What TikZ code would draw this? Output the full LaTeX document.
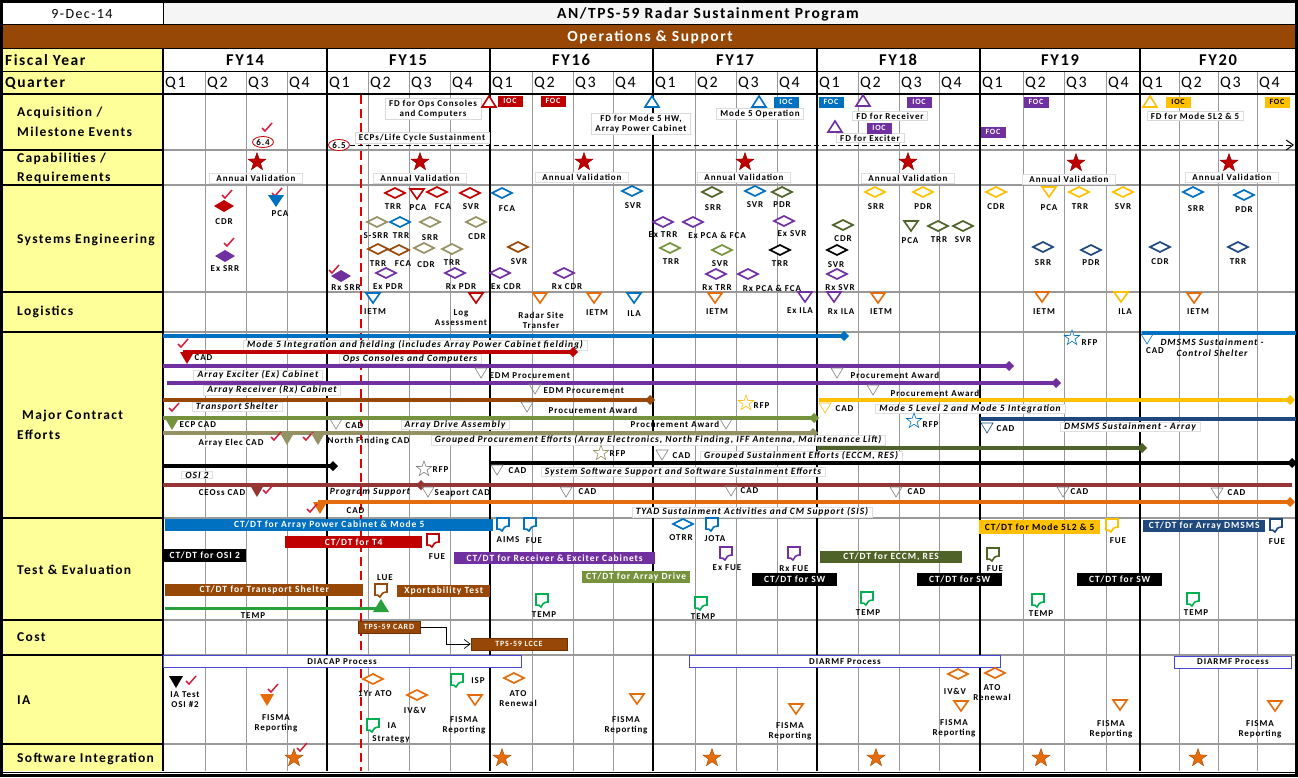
\documentclass[tikz,border=0pt]{standalone}
\usepackage{fontspec}
\setmainfont{Carlito}[LetterSpace=10]
\usetikzlibrary{shapes.geometric,arrows.meta}
\definecolor{cRed}{RGB}{192,0,0}
\definecolor{cBlue}{RGB}{0,112,192}
\definecolor{cPur}{RGB}{112,48,160}
\definecolor{cOlv}{RGB}{118,146,60}
\definecolor{cDOlv}{RGB}{79,98,40}
\definecolor{cTan}{RGB}{148,145,100}
\definecolor{cBrn}{RGB}{151,72,6}
\definecolor{cOrg}{RGB}{228,108,10}
\definecolor{cGold}{RGB}{255,192,0}
\definecolor{cNavy}{RGB}{31,73,125}
\definecolor{cGrn}{RGB}{0,176,80}
\definecolor{cTemp}{RGB}{40,160,60}
\definecolor{cMar}{RGB}{150,54,52}
\definecolor{cYel}{RGB}{255,255,153}
\definecolor{cChk}{RGB}{210,30,60}
\definecolor{cPbl}{RGB}{70,70,210}
\newcommand{\lblf}{\bfseries\fontsize{9}{10}\selectfont}
\newcommand{\mkHD}[3]{\draw[#3,line width=1.6pt,fill=white] (#1,#2) ++(-10,0) -- ++(10,-5) -- ++(10,5) -- ++(-10,5) -- cycle;}
\newcommand{\mkFD}[3]{\fill[#3] (#1,#2) ++(-10,0) -- ++(10,-6) -- ++(10,6) -- ++(-10,6) -- cycle;}
\newcommand{\mkTD}[3]{\draw[#3,line width=1.6pt,fill=white] (#1,#2) ++(-7,-5) -- ++(14,0) -- ++(-7,10) -- cycle;}
\newcommand{\mkFTD}[3]{\fill[#3] (#1,#2) ++(-7,-6) -- ++(14,0) -- ++(-7,12) -- cycle;}
\newcommand{\mkTU}[3]{\draw[#3,line width=1.6pt,fill=white] (#1,#2) ++(-7,5) -- ++(14,0) -- ++(-7,-11) -- cycle;}
\newcommand{\mkFTU}[3]{\fill[#3] (#1,#2) ++(-8,6) -- ++(16,0) -- ++(-8,-13) -- cycle;}
\newcommand{\mkGT}[3]{\draw[#3,line width=0.6pt] (#1,#2) ++(-6,-5) -- ++(12,0) -- ++(-6,10) -- cycle;}
\newcommand{\mkDOC}[3]{\begin{scope}[shift={(#1,#2)}]\draw[#3,line width=1.6pt,fill=white] (-6,-6) -- (6,-6) -- (6,2) .. controls (2,2) and (0,4) .. (-1,7) .. controls (-2,5) and (-4,5) .. (-6,5) -- cycle;\end{scope}}
\newcommand{\mkCHK}[2]{\draw[cChk,line width=1.5pt] (#1,#2) ++(-4,-1) -- ++(3,3) -- ++(7,-8);}
\newcommand{\mkSTAR}[3]{\node[star,star points=5,star point ratio=2.5,minimum size=19pt,inner sep=0pt,fill=#3,draw=#3!70!black] at (#1,#2) {};}
\newcommand{\mkHSTAR}[3]{\node[star,star points=5,star point ratio=2.5,minimum size=16pt,inner sep=0pt,draw=#3,line width=0.6pt,fill=white] at (#1,#2) {};}
\newcommand{\mkEND}[3]{\fill[#3] (#1,#2) ++(-5,0) -- ++(5,-5) -- ++(5,5) -- ++(-5,5) -- cycle;}
\newcommand{\mkL}[3]{\node[lbl] at (#1,#2) {#3};}
\tikzset{
  lbl/.style={font=\lblf, inner sep=0.5pt, align=center},
  lbw/.style={font=\lblf, inner sep=0.5pt, anchor=west},
  ital/.style={font=\bfseries\itshape\fontsize{9.5}{11}\selectfont, inner xsep=4pt, inner ysep=0.5pt, fill=white, draw=gray!25},
  abox/.style={font=\lblf, inner xsep=4pt, inner ysep=1.5pt, fill=white, draw=gray!30, align=center},
  vbox/.style={font=\bfseries\fontsize{9}{10}\selectfont, inner xsep=7pt, inner ysep=1.5pt, fill=white, draw=gray!25},
  mbox/.style={font=\bfseries\fontsize{8}{8}\selectfont, text=white, minimum width=25pt, minimum height=11pt, inner sep=0pt},
  bar/.style={font=\bfseries\fontsize{9.5}{10}\selectfont, text=white, minimum height=12pt, inner sep=0pt, anchor=west},
  cbox/.style={font=\bfseries\fontsize{8}{8}\selectfont, text=white, fill=cBrn, draw=cBrn!70!black, minimum height=12pt, inner sep=0pt},
  pbox/.style={font=\lblf, draw=cPbl, line width=1pt, fill=white, minimum height=12pt, inner sep=0pt},
  rowlab/.style={font=\bfseries\fontsize{13.5}{15}\selectfont, anchor=west, inner sep=0pt},
  lw/.style={line width=3.2pt}
}
\begin{document}
\begin{tikzpicture}[x=1pt,y=-1pt]
\useasboundingbox (0,0) rectangle (1298,777);
% ---------- backgrounds
\fill[white] (0,0) rectangle (1298,777);
\fill[gray!8] (163,3) rectangle (1295,24);
\fill[cBrn] (3,25) rectangle (1295,48);
\fill[cYel] (3,49) rectangle (163,771);
% ---------- grid
\foreach \q in {205,246,287,368,409,450,532,573,613,695,736,777,858,899,939,1023,1064,1106,1179,1218,1257}
  \draw[gray!80,line width=1pt] (\q,71) -- (\q,771);
\foreach \yy in {150,185,292,332,518,620,655,744} {
  \draw[gray!80,line width=1.5pt] (163,\yy) -- (1295,\yy);
  \draw[black,line width=1.5pt] (3,\yy) -- (163,\yy);
}
\draw[black,line width=1pt] (3,71) -- (1295,71);
\draw[black,line width=2pt] (3,94) -- (1295,94);
\draw[black,line width=1.5pt] (3,48.5) -- (1295,48.5);
\draw[black,line width=1pt] (3,24.5) -- (1295,24.5);
\draw[black,line width=0.6pt] (163,3) -- (163,24);
\foreach \q in {163,327,490,653,817,980,1140}
  \draw[black,line width=2.4pt] (\q,49) -- (\q,771);
\draw[black,line width=3pt] (1.5,1.5) rectangle (1296.5,775.5);
\draw[black,line width=1pt] (3,772) -- (1295,772);
% red dashed status line
\draw[red!90!black,line width=2.4pt,dash pattern=on 9pt off 5pt] (361,95) -- (361,771);
% ---------- header texts
\node[font=\fontsize{14}{16}\selectfont] (date) at (82,14) {9-Dec-14};
\node[font=\bfseries\fontsize{15.5}{17}\selectfont] (title) at (708,14) {AN/TPS-59 Radar Sustainment Program};
\node[font=\bfseries\fontsize{15.5}{17}\selectfont,text=white] (ops) at (650,37) {Operations \& Support};
\node[rowlab,font=\bfseries\fontsize{15.5}{17}\selectfont] (fyl) at (5,60) {Fiscal Year};
\node[rowlab,font=\bfseries\fontsize{15.5}{17}\selectfont] (ql) at (5,83) {Quarter};
\foreach \a/\t in {245/FY14,408/FY15,571/FY16,735/FY17,898/FY18,1060/FY19,1218/FY20}
  \node[font=\bfseries\fontsize{16.5}{18}\selectfont] at (\a,60) {\t};
\foreach \a/\t in {163/Q1,205/Q2,246/Q3,287/Q4,327/Q1,368/Q2,409/Q3,450/Q4,490/Q1,532/Q2,573/Q3,613/Q4,653/Q1,695/Q2,736/Q3,777/Q4,817/Q1,858/Q2,899/Q3,939/Q4,980/Q1,1023/Q2,1064/Q3,1106/Q4,1140/Q1,1179/Q2,1218/Q3,1257/Q4}
  \node[anchor=west,inner sep=0pt,font=\fontsize{16}{18}\selectfont] at (\a+2,83) {\t};
% row labels
\node[rowlab] (r1) at (17,113) {Acquisition /};
\node[rowlab] (r1b) at (17,132) {Milestone Events};
\node[rowlab] (r2) at (17,159) {Capabilities /};
\node[rowlab] (r2b) at (17,178) {Requirements};
\node[rowlab] (r3) at (17,240) {Systems Engineering};
\node[rowlab] (r4) at (17,312) {Logistics};
\node[rowlab] (r5) at (22,416) {Major Contract};
\node[rowlab] (r5b) at (17,435) {Efforts};
\node[rowlab] (r6) at (17,570) {Test \& Evaluation};
\node[rowlab] (r7) at (17,637) {Cost};
\node[rowlab] (r8) at (17,700) {IA};
\node[rowlab] (r9) at (17,759) {Software Integration};
% ---------- Acquisition / Milestone events
\node[ellipse,draw=cRed,line width=0.8pt,minimum width=21pt,minimum height=11pt,inner sep=0pt,font=\lblf] (e64) at (263,142) {6.4};
\mkCHK{266}{129}
\node[ellipse,draw=cRed,line width=0.8pt,minimum width=21pt,minimum height=11pt,inner sep=0pt,font=\lblf,fill=white] (e65) at (339,145) {6.5};
\coordinate (ecpend) at (1294,145);
\draw[line width=1pt,dash pattern=on 5pt off 3pt,-{Straight Barb[length=7pt,width=10pt]}] (e65.east) -- (ecpend);
\node[abox] (ecp) at (422,138) {ECPs/Life Cycle Sustainment};
\node[abox] (fdops) at (433,109) {FD for Ops Consoles\\and Computers};
\mkTU{489}{102}{cRed}
\node[mbox,fill=cRed] (ioc1) at (510,101) {IOC};
\node[mbox,fill=cRed] (foc1) at (553,101) {FOC};
\mkTU{652}{102}{cBlue}
\node[abox] (fdm5) at (641,124) {FD for Mode 5 HW,\\Array Power Cabinet};
\node[abox] (m5op) at (760,114) {Mode 5 Operation};
\mkTU{759}{102}{cBlue}
\node[mbox,fill=cBlue] (ioc2) at (786,102) {IOC};
\node[mbox,fill=cBlue] (foc2) at (831,102) {FOC};
\mkTU{863}{101}{cPur}
\node[abox] (fdrx) at (890,116) {FD for Receiver};
\node[mbox,fill=cPur] (ioc3) at (919,102) {IOC};
\node[abox] (fdex) at (870,138) {FD for Exciter};
\mkTU{835}{127}{cPur}
\node[mbox,fill=cPur] (ioc4) at (879,128) {IOC};
\node[mbox,fill=cPur] (foc4) at (993,132) {FOC};
\node[mbox,fill=cPur] (foc3) at (1036,102) {FOC};
\mkTU{1150}{102}{cGold}
\node[mbox,fill=cGold,text=black] (ioc5) at (1178,102) {IOC};
\node[abox] (fd5l2) at (1195,116) {FD for Mode 5L2 \& 5};
\node[mbox,fill=cGold,text=black] (foc5) at (1277,102) {FOC};
% ---------- Capabilities
\foreach \a/\b in {257/162,420/162,584/162,745/162,908/162,1076/163,1229/163} {\mkSTAR{\a}{\b}{cRed}}
\foreach \a/\b in {256/178,420/178,582/177,744/177,908/178,1069/179,1232/177}
  \node[vbox] at (\a,\b) {Annual Validation};
% ---------- Systems Engineering
\mkCHK{226}{196} \mkFD{224}{206}{cRed} \mkL{224}{222}{CDR}
\mkCHK{276}{194} \fill[cBlue] (276,207) -- ++(-8,-12) -- ++(16,0) -- cycle; \mkL{280}{214}{PCA}
\mkCHK{228}{244} \mkFD{225}{256}{cPur} \mkL{225}{269}{Ex SRR}
\mkCHK{333}{271} \mkFD{341}{276}{cPur} \mkL{346}{288}{Rx SRR}
\mkHD{395}{193}{cRed} \mkL{393}{207}{TRR}
\mkTD{417}{194}{cRed} \mkL{418}{208}{PCA}
\mkHD{437}{192}{cRed} \mkL{443}{207}{FCA}
\mkHD{470}{193}{cRed} \mkL{471}{207}{SVR}
\mkHD{502}{193}{cBlue} \mkL{507}{209}{FCA}
\mkHD{632}{191}{cBlue} \mkL{633}{206}{SVR}
\mkHD{377}{222}{cTan} \mkL{376}{236}{S-SRR}
\mkHD{400}{222}{cBlue} \mkL{401}{236}{TRR}
\mkHD{430}{222}{cTan} \mkL{430}{238}{SRR}
\mkHD{476}{222}{cTan} \mkL{477}{237}{CDR}
\mkHD{378}{249}{cBrn} \mkL{378}{264}{TRR}
\mkHD{399}{250}{cBrn} \mkL{403}{264}{FCA}
\mkHD{424}{248}{cTan} \mkL{426}{265}{CDR}
\mkHD{452}{249}{cTan} \mkL{452}{263}{TRR}
\mkHD{518}{247}{cBrn} \mkL{519}{262}{SVR}
\mkHD{386}{273}{cPur} \mkL{388}{287}{Ex PDR}
\mkHD{455}{273}{cPur} \mkL{461}{287}{Rx PDR}
\mkHD{500}{273}{cPur} \mkL{506}{287}{Ex CDR}
\mkHD{564}{273}{cPur} \mkL{567}{287}{Rx CDR}
\mkHD{663}{222}{cPur} \mkL{663}{235}{Ex TRR}
\mkHD{693}{222}{cPur} \mkL{717}{235}{Ex PCA \& FCA}
\mkHD{670}{248}{cOlv} \mkL{671}{262}{TRR}
\mkHD{712}{192}{cDOlv} \mkL{713}{208}{SRR}
\mkHD{755}{191}{cBlue} \mkL{755}{205}{SVR}
\mkHD{782}{192}{cDOlv} \mkL{782}{205}{PDR}
\mkHD{784}{221}{cPur} \mkL{792}{234}{Ex SVR}
\mkHD{722}{250}{cOlv} \mkL{720}{264}{SVR}
\mkHD{780}{250}{black} \mkL{780}{264}{TRR}
\mkHD{716}{274}{cPur} \mkL{717}{288}{Rx TRR}
\mkHD{748}{274}{cPur} \mkL{772}{288}{Rx PCA \& FCA}
\mkHD{843}{225}{cDOlv} \mkL{843}{239}{CDR}
\mkHD{837}{250}{black} \mkL{836}{265}{SVR}
\mkHD{837}{274}{cPur} \mkL{840}{288}{Rx SVR}
\mkHD{875}{192}{cGold} \mkL{876}{207}{SRR}
\mkHD{923}{192}{cGold} \mkL{923}{207}{PDR}
\mkTD{911}{226}{cDOlv} \mkL{910}{241}{PCA}
\mkHD{938}{226}{cDOlv} \mkL{939}{240}{TRR}
\mkHD{963}{226}{cDOlv} \mkL{963}{240}{SVR}
\mkHD{996}{192}{cGold} \mkL{996}{207}{CDR}
\mkTD{1049}{192}{cGold} \mkL{1049}{208}{PCA}
\mkHD{1079}{192}{cGold} \mkL{1080}{207}{TRR}
\mkHD{1123}{192}{cGold} \mkL{1123}{207}{SVR}
\mkHD{1043}{247}{cNavy} \mkL{1043}{263}{SRR}
\mkHD{1091}{250}{cNavy} \mkL{1091}{263}{PDR}
\mkHD{1193}{192}{cBlue} \mkL{1196}{209}{SRR}
\mkHD{1244}{195}{cBlue} \mkL{1244}{210}{PDR}
\mkHD{1160}{247}{cNavy} \mkL{1160}{262}{CDR}
\mkHD{1238}{247}{cNavy} \mkL{1238}{262}{TRR}
% ---------- Logistics
\mkTD{373}{298}{cBlue} \mkL{375}{312}{IETM}
\mkTD{476}{298}{cRed} \mkL{461}{318}{Log\\Assessment}
\mkTD{540}{298}{cOrg} \mkL{541}{320}{Radar Site\\Transfer}
\mkTD{594}{298}{cOrg} \mkL{597}{313}{IETM}
\mkTD{634}{298}{cBlue} \mkL{634}{314}{ILA}
\mkTD{715}{298}{cOrg} \mkL{717}{312}{IETM}
\mkTD{805}{297}{cPur} \mkL{800}{311}{Ex ILA}
\mkTD{834}{297}{cPur} \mkL{841}{312}{Rx ILA}
\mkTD{878}{298}{cOrg} \mkL{881}{312}{IETM}
\mkTD{1042}{297}{cOrg} \mkL{1044}{312}{IETM}
\mkTD{1121}{297}{cGold} \mkL{1125}{312}{ILA}
\mkTD{1194}{298}{cOrg} \mkL{1198}{312}{IETM}
% ---------- Major Contract Efforts
\draw[cBlue,lw] (163,336) -- (844,336); \mkEND{844}{336}{cBlue}
\node[ital] at (415,345) {Mode 5 Integration and fielding (includes Array Power Cabinet fielding)};
\mkCHK{182}{345}
\draw[cBlue,lw] (1142,333) -- (1296,333);
\mkHSTAR{1072}{338}{cBlue} \node[lbw] at (1081,343) {RFP};
\mkGT{1147}{339}{cBlue} \mkL{1155}{351}{CAD}
\node[ital,draw=none,fill=none,align=center] at (1212,348) {DMSMS Sustainment -\\Control Shelter};
\draw[cRed,lw] (183,352) -- (573,352); \mkEND{573}{352}{cRed}
\mkFTD{187}{358}{cRed} \node[lbw] at (194,358) {CAD};
\node[ital] at (410,359) {Ops Consoles and Computers};
\draw[cPur,lw] (163,366) -- (1009,366); \mkEND{1009}{366}{cPur}
\node[ital] at (258,375) {Array Exciter (Ex) Cabinet};
\mkGT{481}{373}{gray} \node[lbw] at (489,376) {EDM Procurement};
\mkGT{837}{373}{gray} \node[lbw] at (850,375) {Procurement Award};
\draw[cPur,lw] (167,383) -- (1056,383); \mkEND{1056}{383}{cPur}
\node[ital] at (272,390) {Array Receiver (Rx) Cabinet};
\mkGT{535}{389}{gray} \node[lbw] at (543,391) {EDM Procurement};
\mkGT{873}{390}{gray} \node[lbw] at (890,393) {Procurement Award};
\draw[cBrn,lw] (163,400) -- (650,400); \mkEND{650}{400}{cBrn}
\node[ital] at (237,407) {Transport Shelter};
\mkCHK{173}{409}
\mkGT{527}{407}{gray} \node[lbw] at (548,410) {Procurement Award};
\mkHSTAR{746}{403}{cGold} \node[lbw] at (753,406) {RFP};
\draw[cGold,lw] (819,400) -- (1290,400); \mkEND{1290}{400}{cGold}
\mkGT{825}{408}{cGold} \node[lbw] at (835,409) {CAD};
\node[ital] at (970,409) {Mode 5 Level 2 and Mode 5 Integration};
\draw[cOlv,lw] (163,418) -- (814,418); \mkEND{814}{418}{cOlv}
\mkFTD{172}{424}{cOlv} \node[lbw] at (179,425) {ECP CAD};
\mkGT{336}{424}{gray} \node[lbw] at (345,426) {CAD};
\node[ital] at (455,425) {Array Drive Assembly};
\node[lbl,anchor=east] at (720,424) {Procurement Award}; \mkGT{726}{424}{gray}
\mkHSTAR{914}{421}{cBlue} \node[lbw] at (922,425) {RFP};
\draw[cNavy,lw] (980,419) -- (1296,419);
\mkGT{987}{428}{cNavy} \node[lbw] at (996,429) {CAD};
\node[ital] at (1130,427) {DMSMS Sustainment - Array};
\draw[cTan,lw] (163,433) -- (813,433); \mkEND{813}{433}{cTan}
\node[lbl,fill=white] at (231,443) {Array Elec CAD};
\mkCHK{275}{438} \mkFTD{287}{439}{cTan}
\mkCHK{307}{438} \mkFTD{318}{439}{cTan}
\node[lbw] at (327,441) {North Finding CAD};
\node[ital] at (658,440) {Grouped Procurement Efforts (Array Electronics, North Finding, IFF Antenna, Maintenance Lift)};
\mkHSTAR{601}{453}{cTan} \node[lbw] at (609,454) {RFP};
\draw[cDOlv,lw] (817,448) -- (1142,448); \mkEND{1142}{448}{cDOlv}
\mkGT{662}{455}{gray} \node[lbw] at (672,456) {CAD};
\node[ital] at (801,456) {Grouped Sustainment Efforts (ECCM, RES)};
\draw[black,lw] (163,466) -- (333,466); \mkEND{333}{466}{black}
\node[ital] at (197,475) {OSI 2};
\mkHSTAR{424}{469}{gray} \node[lbw] at (432,470) {RFP};
\draw[black,lw] (490,463) -- (1294,463); \mkEND{1292}{463}{black}
\mkGT{497}{470}{gray} \node[lbw] at (508,471) {CAD};
\node[ital] at (683,472) {System Software Support and Software Sustainment Efforts};
\draw[cMar,lw] (163,485) -- (1292,485); \mkEND{421}{485}{cMar}
\node[lbl] at (222,493) {CEOss CAD};
\mkFTD{257}{491}{cMar} \mkCHK{267}{491}
\node[ital,draw=none,fill=none] at (370,492) {Program Support};
\mkGT{428}{492}{gray} \node[lbw] at (434,493) {Seaport CAD};
\mkGT{566}{492}{gray} \node[lbw] at (578,492) {CAD};
\mkGT{731}{491}{gray} \node[lbw] at (740,491) {CAD};
\mkGT{896}{492}{gray} \node[lbw] at (907,492) {CAD};
\mkGT{1063}{492}{gray} \node[lbw] at (1070,492) {CAD};
\mkGT{1217}{493}{gray} \node[lbw] at (1227,493) {CAD};
\draw[cOrg,lw] (318,502) -- (1290,502); \mkEND{1290}{502}{cOrg}
\mkFTD{320}{508}{cOrg} \mkCHK{311}{510}
\node[lbw] at (346,511) {CAD};
\node[ital] at (752,512) {TYAD Sustainment Activities and CM Support (SIS)};
% ---------- Test & Evaluation
\node[bar,fill=cBlue,minimum width=328pt] (b1) at (165,525) {CT/DT for Array Power Cabinet \& Mode 5};
\node[bar,fill=cRed,minimum width=137pt] (b2) at (285,542) {CT/DT for T4};
\mkDOC{433}{540}{cRed} \mkL{437}{557}{FUE}
\node[bar,fill=black,minimum width=83pt,minimum height=13pt] (b3) at (163,555) {CT/DT for OSI 2};
\mkDOC{503}{524}{cBlue} \mkL{508}{540}{AIMS}
\mkDOC{530}{524}{cBlue} \mkL{534}{541}{FUE}
\node[bar,fill=cPur,minimum width=201pt] (b4) at (454,558) {CT/DT for Receiver \& Exciter Cabinets};
\mkHD{683}{524}{cBlue} \mkL{681}{538}{OTRR}
\mkDOC{712}{524}{cBlue} \mkL{715}{539}{JOTA}
\mkDOC{726}{553}{cPur} \mkL{727}{568}{Ex FUE}
\mkDOC{794}{553}{cPur} \mkL{794}{569}{Rx FUE}
\node[bar,fill=cOlv,minimum width=108pt] (b5) at (582,577) {CT/DT for Array Drive};
\node[bar,fill=black,minimum width=85pt,minimum height=13pt] (b6) at (752,579) {CT/DT for SW};
\node[bar,fill=cDOlv,minimum width=142pt] (b7) at (820,557) {CT/DT for ECCM, RES};
\mkDOC{993}{554}{cDOlv} \mkL{995}{569}{FUE}
\node[bar,fill=black,minimum width=85pt,minimum height=13pt] (b8) at (917,579) {CT/DT for SW};
\node[bar,fill=cGold,text=black,minimum width=121pt,minimum height=14pt] (b9) at (979,527) {CT/DT for Mode 5L2 \& 5};
\mkDOC{1112}{525}{cGold} \mkL{1118}{541}{FUE}
\node[bar,fill=black,minimum width=85pt,minimum height=13pt] (b10) at (1077,579) {CT/DT for SW};
\node[bar,fill=cNavy,minimum width=122pt] (b11) at (1143,526) {CT/DT for Array DMSMS};
\mkDOC{1276}{525}{cNavy} \mkL{1277}{542}{FUE}
\node[bar,fill=cBrn,minimum width=198pt] (b12) at (165,590) {CT/DT for Transport Shelter};
\mkDOC{381}{590}{cBrn} \mkL{385}{578}{LUE}
\node[bar,fill=cBrn,minimum width=93pt] (b13) at (397,591) {Xportability Test};
\draw[cTemp,line width=3pt] (165,608) -- (381,608);
\mkFTU{381}{606}{cTemp}
\mkL{253}{616}{TEMP}
\mkDOC{542}{600}{cGrn} \mkL{544}{615}{TEMP}
\mkDOC{701}{603}{cGrn} \mkL{703}{617}{TEMP}
\mkDOC{867}{598}{cGrn} \mkL{868}{613}{TEMP}
\mkDOC{1038}{600}{cGrn} \mkL{1041}{614}{TEMP}
\mkDOC{1193}{599}{cGrn} \mkL{1196}{613}{TEMP}
% ---------- Cost
\node[cbox,minimum width=62pt] (card) at (389,627) {TPS-59 CARD};
\node[cbox,minimum width=96pt] (lcce) at (519,644) {TPS-59 LCCE};
\coordinate (cbend) at (446,627);
\draw[line width=0.7pt,-{Straight Barb[length=6pt,width=9pt]}] (card.east) -- (cbend) |- (lcce.west);
% ---------- IA
\node[pbox,minimum width=358pt] (diacap) at (342,661.5) {DIACAP Process};
\node[pbox,minimum width=311pt] (diarmf1) at (845,661.5) {DIARMF Process};
\node[pbox,minimum width=117pt] (diarmf2) at (1233,662) {DIARMF Process};
\mkFTD{176}{682}{black} \mkCHK{190}{682}
\mkL{185}{700}{IA Test\\OSI \#2}
\mkFTD{267}{700}{cOrg} \mkCHK{272}{690}
\mkL{276}{723}{FISMA\\Reporting}
\mkHD{373}{679}{cOrg} \mkL{375}{694}{1Yr ATO}
\mkHD{417}{695}{cOrg} \mkL{415}{710}{IV\&V}
\mkDOC{373}{725}{cGrn} \mkL{392}{726}{IA} \mkL{391}{739}{Strategy}
\mkDOC{457}{680}{cGrn} \mkL{478}{681}{ISP}
\mkTD{475}{700}{cOrg} \mkL{464}{725}{FISMA\\Reporting}
\mkHD{514}{678}{cOrg} \mkL{518}{699}{ATO\\Renewal}
\mkTD{637}{699}{cOrg} \mkL{626}{725}{FISMA\\Reporting}
\mkTD{796}{709}{cOrg} \mkL{790}{731}{FISMA\\Reporting}
\mkHD{958}{674}{cOrg} \mkL{955}{691}{IV\&V}
\mkHD{995}{673}{cOrg} \mkL{992}{693}{ATO\\Renewal}
\mkTD{961}{706}{cOrg} \mkL{954}{728}{FISMA\\Reporting}
\mkTD{1120}{705}{cOrg} \mkL{1111}{729}{FISMA\\Reporting}
\mkTD{1275}{706}{cOrg} \mkL{1260}{729}{FISMA\\Reporting}
% ---------- Software Integration
\foreach \a in {294,502,712,876,1041,1198} {\mkSTAR{\a}{758}{cOrg}}
\mkCHK{301}{749}
\end{tikzpicture}
\end{document}
